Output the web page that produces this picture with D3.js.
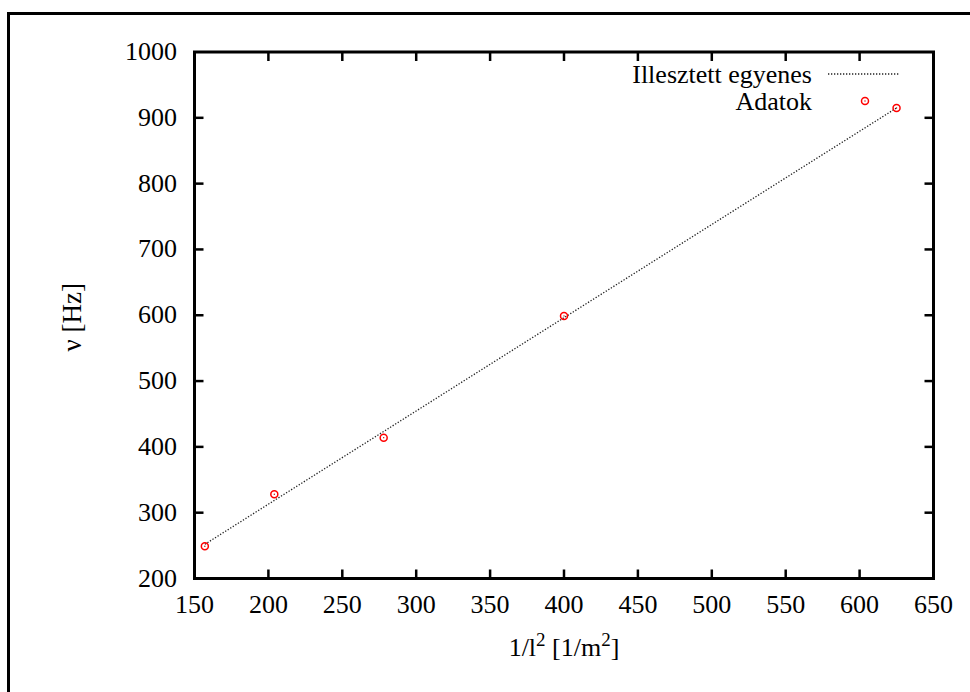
<!DOCTYPE html>
<html>
<head>
<meta charset="utf-8">
<script src="https://cdn.jsdelivr.net/npm/d3@7"></script>
<style>
  body { margin: 0; background: #fff; }
  svg { display: block; font-family: "Liberation Serif", "Times New Roman", serif; }
</style>
</head>
<body>
<svg width="970" height="692"></svg>
<script>
// Measured data (1/l^2 vs frequency)
const dataX = [157, 204, 278, 400, 625];
const dataY = [249, 328, 414, 599, 915];

// Fitted straight line, endpoints
const fitX = [157, 625];
const fitY = [252, 915];

// Tick values
const xTicks = [150, 200, 250, 300, 350, 400, 450, 500, 550, 600, 650];
const yTicks = [200, 300, 400, 500, 600, 700, 800, 900, 1000];

const legendLabels = ["Illesztett egyenes", "Adatok"];

const svg = d3.select("svg");
const fontSize = 26;

// Plot area
const plotLeft = 194.5, plotRight = 933.5, plotTop = 52, plotBottom = 578.5;

const x = d3.scaleLinear().domain([150, 650]).range([plotLeft, plotRight]);
const y = d3.scaleLinear().domain([200, 1000]).range([plotBottom, plotTop]);

// Outer page frame (only top and left edges visible)
svg.append("path")
    .attr("d", "M8.5,692 L8.5,13.5 L970,13.5")
    .attr("fill", "none")
    .attr("stroke", "#000")
    .attr("stroke-width", 3);

const g = svg.append("g");

// Tick marks, drawn inward on all four sides
const tickLen = 9;
xTicks.slice(1, -1).forEach(t => {
    g.append("line").attr("x1", x(t)).attr("x2", x(t)).attr("y1", plotBottom).attr("y2", plotBottom - tickLen)
        .attr("stroke", "#000").attr("stroke-width", 2.5);
    g.append("line").attr("x1", x(t)).attr("x2", x(t)).attr("y1", plotTop).attr("y2", plotTop + tickLen)
        .attr("stroke", "#000").attr("stroke-width", 2.5);
});
yTicks.slice(1, -1).forEach(t => {
    g.append("line").attr("x1", plotLeft).attr("x2", plotLeft + tickLen).attr("y1", y(t)).attr("y2", y(t))
        .attr("stroke", "#000").attr("stroke-width", 2.5);
    g.append("line").attr("x1", plotRight).attr("x2", plotRight - tickLen).attr("y1", y(t)).attr("y2", y(t))
        .attr("stroke", "#000").attr("stroke-width", 2.5);
});

// Tick labels
g.selectAll(".xlab").data(xTicks).join("text")
    .attr("class", "xlab")
    .attr("x", d => x(d))
    .attr("y", 613)
    .attr("text-anchor", "middle")
    .attr("font-size", fontSize)
    .text(d => d);

g.selectAll(".ylab").data(yTicks).join("text")
    .attr("class", "ylab")
    .attr("x", 177)
    .attr("y", d => y(d) + 8)
    .attr("text-anchor", "end")
    .attr("font-size", fontSize)
    .text(d => d);

// Plot border
g.append("rect")
    .attr("x", plotLeft).attr("y", plotTop)
    .attr("width", plotRight - plotLeft).attr("height", plotBottom - plotTop)
    .attr("fill", "none")
    .attr("stroke", "#000")
    .attr("stroke-width", 3);

// Axis titles
const xt = svg.append("text")
    .attr("x", (plotLeft + plotRight) / 2)
    .attr("y", 656)
    .attr("text-anchor", "middle")
    .attr("font-size", fontSize);
xt.append("tspan").text("1/l");
xt.append("tspan").attr("font-size", 19).attr("dy", -10).text("2");
xt.append("tspan").attr("dy", 10).text(" [1/m");
xt.append("tspan").attr("font-size", 19).attr("dy", -10).text("2");
xt.append("tspan").attr("dy", 10).text("]");

svg.append("text")
    .attr("transform", `translate(81,${(plotTop + plotBottom) / 2 + 2}) rotate(-90)`)
    .attr("text-anchor", "middle")
    .attr("font-size", 27)
    .text("ν [Hz]");

// Fit line
const line = d3.line().x(d => x(d[0])).y(d => y(d[1]));
g.append("path")
    .attr("d", line(d3.zip(fitX, fitY)))
    .attr("fill", "none")
    .attr("stroke", "#222")
    .attr("stroke-width", 1.3)
    .attr("stroke-dasharray", "1.3,1.7");

// Data points
function drawPoint(sel, cx, cy) {
    sel.append("circle").attr("cx", cx).attr("cy", cy).attr("r", 3.5)
        .attr("fill", "none").attr("stroke", "#ff0000").attr("stroke-width", 1.5);
    sel.append("circle").attr("cx", cx).attr("cy", cy).attr("r", 0.7)
        .attr("fill", "#c00000");
}
d3.zip(dataX, dataY).forEach(d => drawPoint(g, x(d[0]), y(d[1])));

// Legend
const lg = svg.append("g");
lg.append("text").attr("x", 812).attr("y", 83).attr("text-anchor", "end")
    .attr("font-size", fontSize).text(legendLabels[0]);
lg.append("line").attr("x1", 828).attr("x2", 900).attr("y1", 74).attr("y2", 74)
    .attr("stroke", "#222").attr("stroke-width", 1.3).attr("stroke-dasharray", "1.3,1.7");
lg.append("text").attr("x", 812).attr("y", 110).attr("text-anchor", "end")
    .attr("font-size", fontSize).text(legendLabels[1]);
drawPoint(lg, 865, 101);
</script>
</body>
</html>
